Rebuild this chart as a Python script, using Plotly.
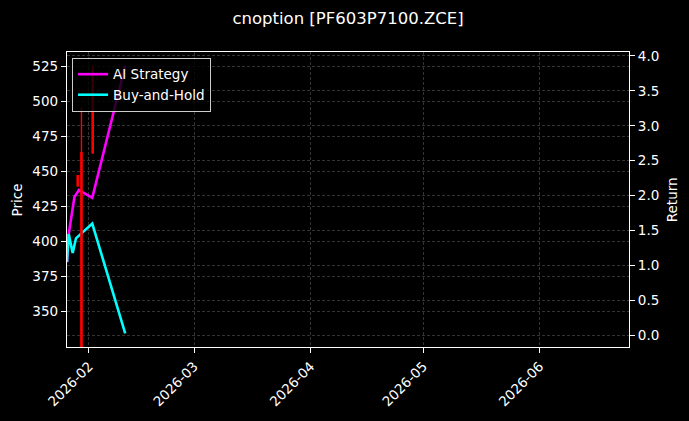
import plotly.graph_objects as go

# candle data (price axis)
candle_dates = ["2026-01-29", "2026-01-30", "2026-02-02"]
candle_high = [447.5, 495.7, 525.8]
candle_low = [439.3, 300.0, 462.8]
candle_open = [447.5, 464.0, 522.6]
candle_close = [439.3, 300.0, 462.8]

# return curves
ai_dates = ["2026-01-26 03:30", "2026-01-26 14:30", "2026-01-28 03:00",
            "2026-01-29 08:00", "2026-02-01 21:00", "2026-02-10 15:30"]
ai_return = [1.05, 1.45, 1.98, 2.08, 1.97, 3.86]

bh_dates = ["2026-01-26 03:30", "2026-01-26 14:30", "2026-01-27 16:00",
            "2026-01-28 13:00", "2026-02-01 21:00", "2026-02-10 15:30"]
bh_return = [1.05, 1.45, 1.18, 1.39, 1.60, 0.03]

price_ticks = [350, 375, 400, 425, 450, 475, 500, 525]
return_ticks = [0.0, 0.5, 1.0, 1.5, 2.0, 2.5, 3.0, 3.5, 4.0]

WHITE = "#ffffff"
GRID = "rgba(255,255,255,0.2)"
FONT = "DejaVu Sans"

fig = go.Figure()

# return lines first (drawn under the candles)
fig.add_trace(go.Scatter(x=ai_dates, y=ai_return, mode="lines",
                         name="AI Strategy", yaxis="y",
                         line=dict(color="#ff00ff", width=2.6)))
fig.add_trace(go.Scatter(x=bh_dates, y=bh_return, mode="lines",
                         name="Buy-and-Hold", yaxis="y",
                         line=dict(color="#00ffff", width=2.6)))

# wicks and bodies as vertical segments
wx, wy, bx, by = [], [], [], []
for d, h, lo, o, c in zip(candle_dates, candle_high, candle_low,
                          candle_open, candle_close):
    wx += [d, d, None]
    wy += [lo, h, None]
    bx += [d, d, None]
    by += [min(o, c), max(o, c), None]
fig.add_trace(go.Scatter(x=wx, y=wy, mode="lines", yaxis="y2",
                         showlegend=False, hoverinfo="skip",
                         line=dict(color="#ff0000", width=1.4)))
fig.add_trace(go.Scatter(x=bx, y=by, mode="lines", yaxis="y2",
                         showlegend=False, hoverinfo="skip",
                         line=dict(color="#ff0000", width=2.6)))

axis_common = dict(showline=True, linecolor=WHITE, linewidth=1.3,
                   ticks="outside", ticklen=5, tickcolor=WHITE,
                   tickfont=dict(size=13.5, color=WHITE, family=FONT),
                   showgrid=True, gridcolor=GRID, griddash="3px,2px",
                   gridwidth=0.6, zeroline=False)

fig.update_layout(
    width=689, height=421,
    paper_bgcolor="black", plot_bgcolor="black",
    font=dict(family=FONT, color=WHITE),
    margin=dict(l=67, r=60, t=52, b=70),
    title=dict(text="cnoption [PF603P7100.ZCE]", x=0.5, xref="paper",
               xanchor="center", y=0.957, yanchor="middle",
               font=dict(size=16.5, color=WHITE, family=FONT)),
    xaxis=dict(type="date",
               range=["2026-01-26 03:36", "2026-06-24 19:00"],
               dtick="M1", tick0="2026-02-01", tickformat="%Y-%m",
               tickangle=-45, mirror=True, **axis_common),
    yaxis=dict(side="right", range=[-0.165, 4.056],
               tickvals=return_ticks, tickformat=".1f", **axis_common),
    yaxis2=dict(side="left", overlaying="y", anchor="x",
                range=[324.6, 535.4], tickvals=price_ticks, **axis_common),
    legend=dict(x=0.009, y=0.98, xanchor="left", yanchor="top",
                bgcolor="rgba(0,0,0,0.8)", bordercolor="#cccccc",
                borderwidth=1, font=dict(size=13.5, color=WHITE),
                tracegroupgap=0),
    showlegend=True,
)

fig.add_annotation(text="Price", x=-0.089, y=0.5, xref="paper",
                   yref="paper", textangle=-90, showarrow=False,
                   xanchor="center", yanchor="middle",
                   font=dict(size=13.5, color=WHITE))
fig.add_annotation(text="Return", x=1.076, y=0.5, xref="paper",
                   yref="paper", textangle=-90, showarrow=False,
                   xanchor="center", yanchor="middle",
                   font=dict(size=13.5, color=WHITE))

# drop the default page margin so the black figure fills the window
fig.write_html("out.html", config={"displayModeBar": False},
               post_script="document.body.style.margin='0';"
                           "document.body.style.background='black';")
